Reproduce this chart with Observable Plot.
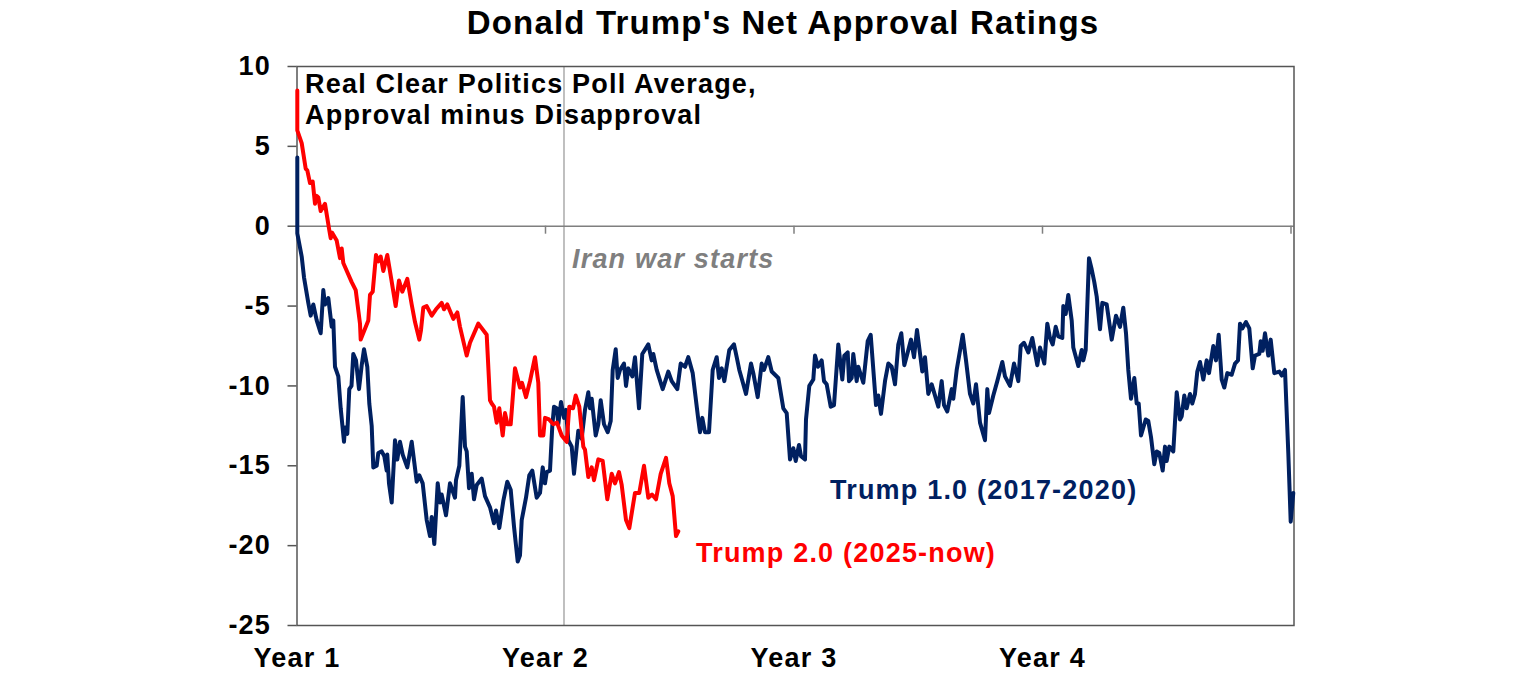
<!DOCTYPE html>
<html><head><meta charset="utf-8">
<script src="https://cdn.jsdelivr.net/npm/d3@7"></script>
<script src="https://cdn.jsdelivr.net/npm/@observablehq/plot@0.6"></script>
<style>
html,body{margin:0;padding:0;background:#fff;overflow:hidden}
#t{position:absolute;left:0;top:3px;width:1566px;text-align:center;font:bold 33px "Liberation Sans",Arial,sans-serif;letter-spacing:1.17px;color:#000;line-height:40px}
svg text{letter-spacing:1.2px}
</style></head><body>
<div id="t">Donald Trump's Net Approval Ratings</div>
<div id="c"></div>
<script>
// x = position along the four-year term, in sessions (about 248.5 per year); y = net approval, pts
const trump2 = [[0.3,8.5],[0.3,6],[4.7,5.2],[8.7,3.6],[10.3,3.5],[13,2.7],[15.7,2.8],[18,1.4],[19.7,1.9],[21.3,1.8],[23.7,.95],[28,1.4],[32.3,-.25],[33.7,-.75],[35,-.4],[39.7,-.9],[43,-2],[44.7,-1.4],[46.3,-2.3],[54.7,-3.5],[58.7,-4],[63,-6.1],[63.7,-7.1],[71.3,-5.9],[73,-4.3],[75.7,-4.1],[79,-1.8],[81.3,-2.2],[83.7,-1.9],[86.3,-2.8],[90.3,-1.8],[94,-3.2],[98.7,-5],[102,-3.4],[105.3,-4.1],[110.3,-3.3],[114.7,-4.9],[118,-6],[122.3,-7.1],[124,-6.5],[126.3,-5.1],[129.7,-5],[134.7,-5.6],[139,-5.2],[144.7,-4.8],[147,-5.2],[150.3,-4.9],[156.3,-5.8],[160.3,-5.4],[163,-6.3],[169.7,-8.1],[173,-7.3],[181.3,-6.1],[189.7,-6.8],[193,-10.9],[194.7,-11.1],[197,-11.3],[199.7,-12.3],[202.3,-11.4],[205.7,-13.1],[208,-11.7],[210.5,-12.4],[213.7,-12.4],[218,-8.9],[223,-10.1],[225,-9.8],[229,-10.7],[233,-9.7],[238,-8.2],[241.3,-9.8],[243,-13.1],[246.3,-13.1],[248,-12],[252,-12.1],[256.3,-12.4],[260,-12.3],[264.7,-13.1],[269.7,-13.5],[272.3,-11.3],[276,-11.4],[278.7,-10.6],[282.3,-11.3],[286.3,-13.8],[288,-14],[291.3,-15.7],[294.7,-15.1],[297,-15.9],[301.3,-14.6],[305.7,-14.7],[310.3,-17.1],[314.7,-15.5],[318,-16.1],[322,-15.4],[324.7,-16.2],[329,-18.4],[332.3,-18.9],[338,-16.7],[342.3,-16.7],[347,-15],[351.3,-17],[355,-16.8],[359,-17.1],[363.7,-15.5],[369,-14.5],[372.3,-16.1],[375.7,-16.9],[379,-19.4],[381.3,-19.1]];
const trump1 = [[0.3,4.3],[0.3,-.45],[4.7,-1.9],[7,-3.2],[11.3,-4.8],[13.7,-5.6],[16.3,-4.9],[19.7,-5.9],[23.7,-6.7],[26.3,-4],[28,-4.9],[31.3,-4.5],[34.7,-6.3],[36.3,-5.9],[38,-8.8],[41.3,-9.4],[43.7,-11.4],[47,-13.5],[48,-12.6],[50.3,-13],[52.3,-10.2],[54.5,-10],[56.3,-8],[59,-8.4],[62,-10.2],[64.7,-8.7],[67,-7.7],[70.3,-8.8],[72.3,-11.1],[74.7,-12.5],[76.3,-15.1],[79.7,-15],[81.3,-14.2],[84.7,-14.1],[87.3,-14.4],[89.7,-15.3],[90.3,-14.3],[92,-16.1],[94.7,-17.3],[98,-13.4],[100.3,-14.6],[103,-13.5],[105.7,-14.3],[110.3,-15.1],[114.7,-13.5],[119.7,-16],[122.3,-15.6],[125.7,-16.1],[129.7,-18.4],[133,-19.4],[134.7,-18.2],[137.3,-19.9],[140.7,-16.1],[143,-17.3],[144.7,-16.8],[149,-18.1],[153,-16.1],[158,-17],[159,-15.9],[162.3,-15],[165.7,-10.7],[168,-13.8],[169.7,-14.1],[172,-16.4],[174.7,-15.5],[177,-17.1],[179.7,-16.2],[184.7,-15.8],[188,-16.9],[193,-17.6],[197,-18.6],[199,-17.8],[202.3,-18.9],[206.3,-17.2],[210.3,-16],[213.7,-16.5],[217,-18.8],[220.7,-21],[223,-20.6],[224.7,-18.4],[229,-17],[232.3,-15.6],[235.3,-15.3],[239.7,-17],[243,-16.7],[245.7,-15.1],[248,-16.1],[249.7,-15.4],[253,-15.3],[255.3,-12.5],[257,-11.3],[259.7,-11.4],[261.3,-12.4],[264,-11],[267,-12],[269,-11.5],[271.3,-13.4],[274.7,-13.8],[277,-15.5],[281.3,-12.8],[284.7,-13.3],[288,-11.5],[291.3,-10.4],[293,-11.4],[294.7,-10.8],[298.7,-13.1],[301.3,-12.4],[303.7,-10.9],[307,-12.4],[310.7,-12.9],[313.7,-12.2],[315.7,-9],[318.7,-7.7],[320.7,-9.5],[323,-9],[327,-8.6],[329,-10],[331.3,-8.9],[335.3,-9.4],[338,-8.2],[342,-11.4],[345.3,-8],[351.3,-7.4],[354.7,-8.4],[356.3,-8],[359.7,-9],[365.7,-10.2],[371.3,-9.1],[374.7,-9.7],[380.3,-10.2],[383.7,-8.6],[388,-8.8],[391.3,-8.2],[395.7,-9.2],[401.3,-12.1],[403,-12.9],[405.3,-12],[408,-12.9],[412,-12.9],[415.7,-9],[419.7,-8.2],[422,-9.5],[424.7,-8.9],[427.3,-9.7],[432.3,-7.75],[437,-7.4],[439.7,-8.2],[442.3,-9],[445,-9.6],[449,-10.5],[454,-8.6],[456.3,-9.2],[460.7,-10.7],[464.7,-8.6],[467,-9],[471.3,-8.2],[474.7,-9.1],[481.3,-9.5],[486.3,-11.4],[489.7,-11.7],[493,-14.6],[496.3,-13.9],[498.7,-14.7],[502,-13.7],[504,-14.4],[508,-14.6],[509,-12.1],[512.3,-10],[516.3,-9.6],[518,-8.1],[521,-8.8],[524.7,-8.4],[527,-9.7],[529.7,-9.9],[533.7,-11.3],[537,-11.2],[541.3,-7.4],[545.3,-9.6],[547.3,-8.1],[550.7,-7.9],[552,-9.7],[554.7,-9.5],[556.3,-8],[559.7,-9.7],[561.3,-8.8],[566.3,-9.8],[570.7,-7.2],[573.7,-6.8],[579,-11.2],[581.3,-10.6],[584,-11.75],[588,-9.7],[591.3,-8.6],[594.7,-8.8],[598,-9.9],[601.3,-7.4],[604.3,-6.7],[607.3,-8.7],[610.3,-8],[614,-7.1],[617,-8.2],[620,-6.5],[625.3,-9.1],[628,-8.2],[631.3,-10.5],[634.7,-9.9],[641.3,-11.3],[644.7,-9.7],[647,-11.2],[650.3,-11.6],[654.7,-10.2],[656.3,-10.8],[659.7,-9],[665.7,-6.8],[669,-8.4],[673,-10.5],[676.3,-11.1],[679,-9.9],[683,-12.3],[688,-13.4],[690.3,-10.2],[692,-11.7],[696.3,-10.6],[700.3,-9.7],[705.3,-8.5],[708,-9.4],[713,-10],[717,-8.6],[721.3,-9.7],[723.7,-7.5],[727,-7.3],[731.3,-7.9],[735.3,-7],[740.3,-8.7],[743,-7.6],[747.3,-8.6],[750.3,-6.1],[753,-7],[755.7,-7.4],[758.7,-6.3],[761.3,-6.9],[765.3,-7],[766.3,-5],[768.7,-5.5],[771.3,-4.3],[774.7,-5.9],[776.3,-7.6],[781.3,-8.75],[784.7,-7.75],[786.3,-8.4],[788.7,-7.75],[792,-2],[794.7,-2.7],[797.3,-3.5],[799.7,-4.4],[803,-6.45],[805.3,-4.8],[809.7,-4.9],[814.7,-7.1],[819,-5.6],[823,-6.3],[826.3,-5.1],[829,-6.7],[831.3,-9],[834,-10.8],[837.3,-9.5],[839.7,-11.1],[841.7,-11.1],[844,-13.1],[848.7,-12.1],[851.3,-12.2],[854,-13.2],[857.3,-14.9],[859.7,-14.1],[862.3,-14.2],[865.7,-15.3],[868,-13.8],[869.7,-14.7],[872.3,-13.8],[876.3,-14.1],[879.7,-10.4],[883,-12.1],[884.7,-11.9],[887.3,-10.6],[889.7,-11.4],[893,-10.5],[895.3,-11.1],[898,-10.5],[900.3,-9.1],[903,-8.5],[906.3,-9.6],[909.7,-8.4],[912,-9.2],[916.3,-7.5],[919,-8.4],[921.7,-6.8],[924.7,-9.6],[927.3,-10.1],[930.3,-9.2],[934.7,-9.3],[938,-8.6],[941,-8.4],[943,-6.1],[945.3,-6.4],[949,-6],[952.3,-6.4],[955.7,-8.9],[958,-8.1],[962.3,-8],[963.7,-7.2],[965.7,-7.8],[968,-6.7],[971.3,-8.1],[973.7,-7.1],[977.3,-9.2],[982.3,-9.1],[984.7,-9.35],[988,-9],[991.3,-14.2],[993.7,-18.5],[996.3,-16.7]];
const yearTicks = [0, 248.5, 497, 745.5];
const yearLabels = ["Year 1", "Year 2", "Year 3", "Year 4"];
const axisTicks = [...yearTicks, 994];
const warStart = 267;
const yTicks = [10, 5, 0, -5, -10, -15, -20, -25];

const F = "Liberation Sans";
const pts = a => a.map(([x, y]) => ({x, y}));
const chart = Plot.plot({
  width: 1536, height: 680,
  marginLeft: 296.5, marginRight: 242.5, marginTop: 66, marginBottom: 55,
  style: {fontFamily: F, background: "#fff", overflow: "visible"},
  x: {domain: [0, 997]},
  y: {domain: [-25, 10]},
  marks: [
    Plot.ruleX([warStart], {stroke: "#b0b0b0", strokeWidth: 1.6}),
    Plot.ruleY([0], {stroke: "#7f7f7f", strokeWidth: 1.6}),
    Plot.ruleX(axisTicks, {y1: 0, y2: -0.5, stroke: "#7f7f7f", strokeWidth: 1.5}),
    Plot.frame({stroke: "#555", strokeWidth: 1.5}),
    Plot.axisY({ticks: yTicks, tickSize: 9, tickPadding: 17, stroke: "#555", strokeWidth: 1.5, fontSize: 27, fontWeight: "bold", fill: "#000", label: null, tickFormat: d => String(d)}),
    Plot.axisX({ticks: yearTicks, tickSize: 0, tickPadding: 22, fontSize: 27, fontWeight: "bold", fill: "#000", label: null, tickFormat: d => yearLabels[yearTicks.indexOf(d)]}),
    Plot.line(pts(trump1), {x: "x", y: "y", stroke: "#002060", strokeWidth: 4, strokeLinejoin: "round"}),
    Plot.line(pts(trump2), {x: "x", y: "y", stroke: "#ff0000", strokeWidth: 4, strokeLinejoin: "round"}),
    Plot.text(["Real Clear Politics Poll Average,\nApproval minus Disapproval"], {x: 8, y: 8, text: d => d, textAnchor: "start", lineAnchor: "middle", lineHeight: 1.15, fontSize: 27, fontWeight: "bold", fill: "#000"}),
    Plot.text(["Iran war starts"], {x: 275, y: -2.1, text: d => d, textAnchor: "start", fontSize: 27, fontWeight: "bold", fontStyle: "italic", fill: "#7f7f7f"}),
    Plot.text(["Trump 1.0 (2017-2020)"], {x: 533, y: -16.55, text: d => d, textAnchor: "start", fontSize: 27, fontWeight: "bold", fill: "#002060"}),
    Plot.text(["Trump 2.0 (2025-now)"], {x: 399, y: -20.5, text: d => d, textAnchor: "start", fontSize: 27, fontWeight: "bold", fill: "#ff0000"})
  ]
});
document.getElementById("c").appendChild(chart);
</script>
</body></html>
